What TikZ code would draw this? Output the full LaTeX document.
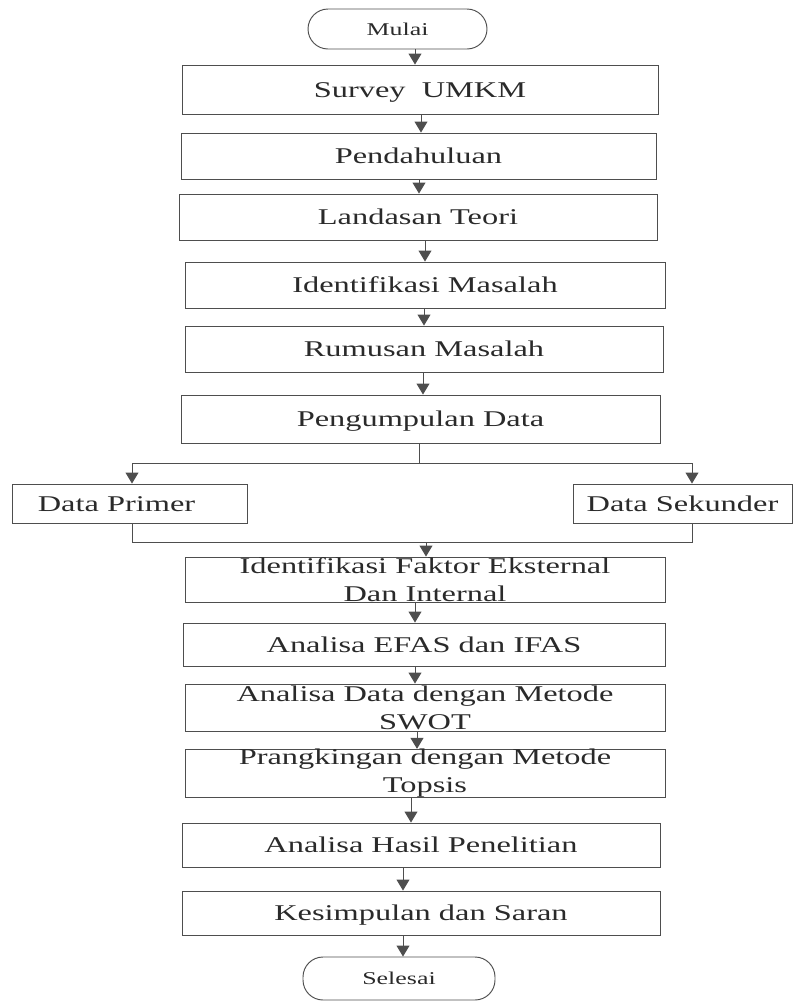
\documentclass[tikz,border=0pt]{standalone}
\usepackage{fontspec}
\setmainfont{Liberation Serif}[FakeStretch=1.44]
\usetikzlibrary{arrows.meta}
\definecolor{txtc}{HTML}{2A2A2A}
\definecolor{linec}{HTML}{4E4E4E}
\begin{document}
\begin{tikzpicture}[x=1pt,y=-1pt,
  box/.style={draw=linec, line width=0.95pt, inner sep=0pt, text=txtc,
    font=\fontsize{22.5}{28}\selectfont, text height=15pt, text depth=0pt},
  boxtwo/.style={draw=linec, line width=0.95pt, inner sep=0pt, text=txtc,
    font=\fontsize{22.5}{28}\selectfont, align=center},
  term/.style={draw=linec, line width=0.95pt, rounded corners=20pt, inner sep=0pt,
    text=txtc, font=\fontsize{18}{22}\selectfont, text height=12pt, text depth=0pt},
  arr/.style={draw=linec, line width=1pt, -{Triangle[width=13pt,length=11pt]}},
  ln/.style={draw=linec, line width=1pt}
]
\useasboundingbox (0,0) rectangle (801,1002);

\node[term, minimum width=179pt, minimum height=40pt] (mulai) at (397.5,29) {Mulai};
\node[box, minimum width=476pt, minimum height=49pt] (survey) at (420,89.5) {Survey\ \ UMKM};
\node[box, minimum width=475pt, minimum height=46pt] (pend) at (418.5,156) {Pendahuluan};
\node[box, minimum width=478pt, minimum height=46pt] (land) at (418,217) {Landasan Teori};
\node[box, minimum width=480pt, minimum height=46pt] (identm) at (425,285) {Identifikasi Masalah};
\node[box, minimum width=478pt, minimum height=46pt] (rumus) at (424,349) {Rumusan Masalah};
\node[box, minimum width=479pt, minimum height=48pt] (pengum) at (420.5,419) {Pengumpulan Data};
\node[box, minimum width=235pt, minimum height=39pt] (primer) at (129.5,503.5) {\hspace*{-26pt}Data Primer};
\node[box, minimum width=219pt, minimum height=39pt] (sekunder) at (682.5,503.5) {Data Sekunder};
\node[boxtwo, minimum width=480pt, minimum height=45pt] (identf) at (425,579.5) {Identifikasi Faktor Eksternal\\Dan Internal};
\node[box, minimum width=482pt, minimum height=43pt] (efas) at (424,644.5) {Analisa EFAS dan IFAS};
\node[boxtwo, minimum width=480pt, minimum height=47pt] (adata) at (425,707.5) {Analisa Data dengan Metode\\SWOT};
\node[boxtwo, minimum width=480pt, minimum height=47pt] (prang) at (425,773.5) {Prangkingan dengan Metode\\Topsis};
\node[box, minimum width=478pt, minimum height=44pt] (hasil) at (421,845) {Analisa Hasil Penelitian};
\node[box, minimum width=478pt, minimum height=44pt] (kesim) at (421,913) {Kesimpulan dan Saran};
\node[term, minimum width=192pt, minimum height=43pt] (selesai) at (399,978.5) {Selesai};

\draw[arr] ([xshift=17.5pt]mulai.south) -- ([xshift=17.5pt]mulai.south |- survey.north);
\draw[arr] ([xshift=1pt]survey.south) -- ([xshift=1pt]survey.south |- pend.north);
\draw[arr] ([xshift=0.5pt]pend.south) -- ([xshift=0.5pt]pend.south |- land.north);
\draw[arr] ([xshift=7pt]land.south) -- ([xshift=7pt]land.south |- identm.north);
\draw[arr] ([xshift=-1pt]identm.south) -- ([xshift=-1pt]identm.south |- rumus.north);
\draw[arr] ([xshift=-1pt]rumus.south) -- ([xshift=-1pt]rumus.south |- pengum.north);

\coordinate (split) at (419,463);
\coordinate (jl) at (132,463);
\coordinate (jr) at (692,463);
\coordinate (ml) at (132,542);
\coordinate (mr) at (692,542);
\coordinate (mid) at (426,542);
\draw[ln] (pengum.south -| split) -- (split);
\draw[ln] (jl) -- (jr);
\draw[arr] (jl) -- (jl |- primer.north);
\draw[arr] (jr) -- (jr |- sekunder.north);
\draw[ln] (jl |- primer.south) -- (ml) -- (mr) -- (jr |- sekunder.south);
\draw[arr] (mid) -- (mid |- identf.north);

\draw[arr] ([xshift=-10pt]identf.south) -- ([xshift=-10pt]identf.south |- efas.north);
\draw[arr] ([xshift=-9pt]efas.south) -- ([xshift=-9pt]efas.south |- adata.north);
\draw[arr] ([xshift=-8pt]adata.south) -- ([xshift=-8pt]adata.south |- prang.north);
\draw[arr] ([xshift=-14pt]prang.south) -- ([xshift=-14pt]prang.south |- hasil.north);
\draw[arr] ([xshift=-18pt]hasil.south) -- ([xshift=-18pt]hasil.south |- kesim.north);
\draw[arr] ([xshift=-18pt]kesim.south) -- ([xshift=-18pt]kesim.south |- selesai.north);
\end{tikzpicture}
\end{document}
